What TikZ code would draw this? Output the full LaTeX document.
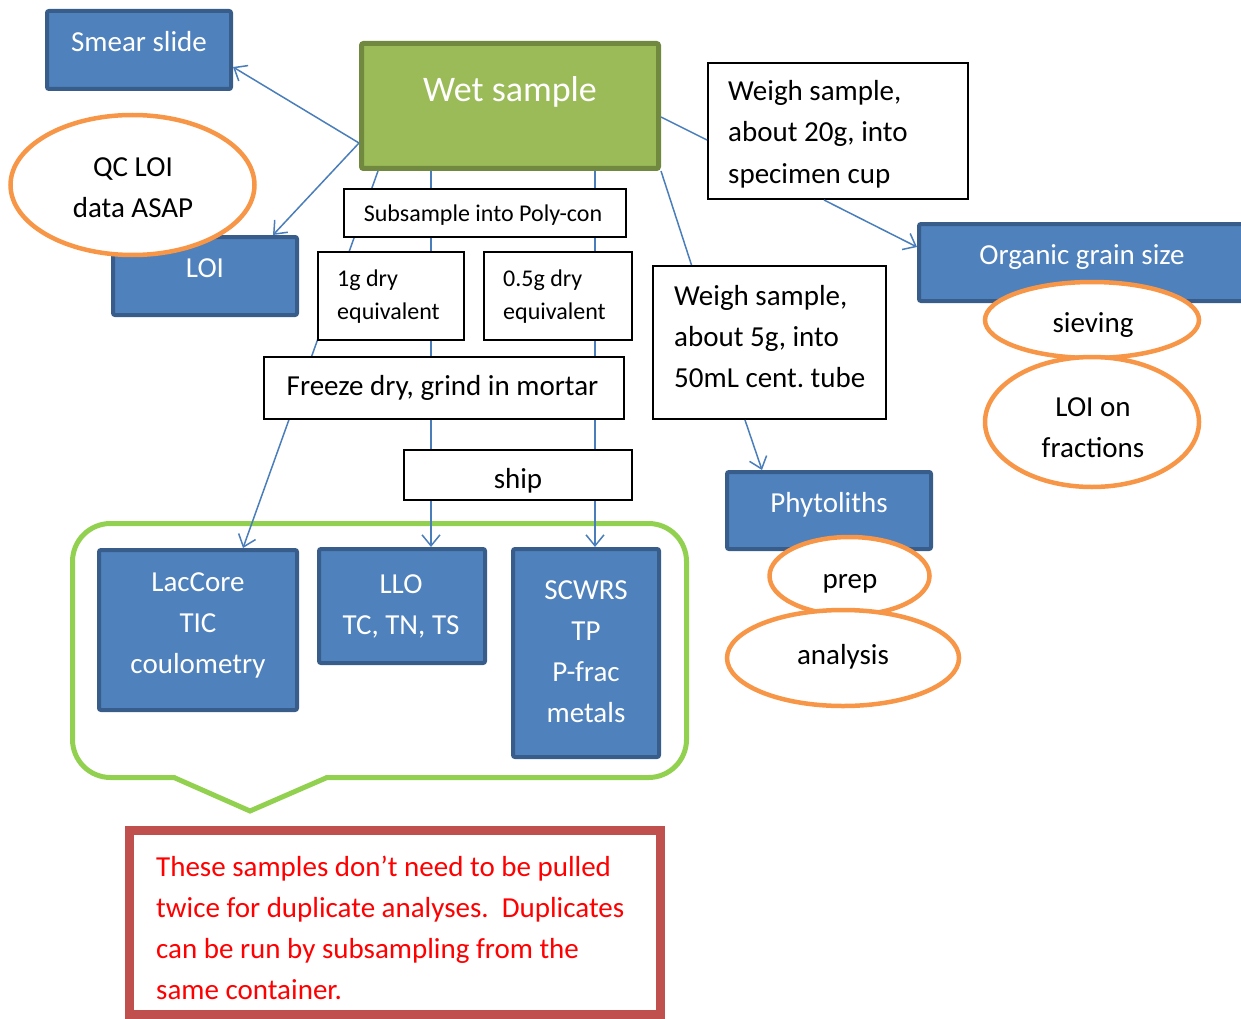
\documentclass[tikz,border=0pt]{standalone}
\usepackage{fontspec}
\setmainfont{Carlito}
\frenchspacing
\usetikzlibrary{arrows.meta,shapes.geometric,calc}
\definecolor{boxblue}{HTML}{4F81BD}
\definecolor{boxblueline}{HTML}{385D8A}
\definecolor{wetfill}{HTML}{9BBB59}
\definecolor{wetline}{HTML}{71893F}
\definecolor{ovalline}{HTML}{F79646}
\definecolor{groupline}{HTML}{92D050}
\definecolor{noteline}{HTML}{C0504D}
\definecolor{notetext}{HTML}{FF0000}
\definecolor{linkblue}{HTML}{4A7EBB}
\begin{document}
\begin{tikzpicture}[x=1pt,y=-1pt,
  bluebox/.style={draw=boxblueline, fill=boxblue, line width=4pt, rounded corners=2pt, inner sep=0pt},
  plainbox/.style={draw=black, fill=white, line width=2pt, inner sep=0pt},
  oval/.style={ellipse, draw=ovalline, fill=white, line width=4.5pt, inner sep=0pt},
  link/.style={draw=linkblue, line width=1.5pt},
  arr/.style={link, -{Straight Barb[length=11pt,width=18pt,line width=1.5pt]}},
  body/.style={font=\fontsize{29}{41}\selectfont, inner sep=0pt},
  small/.style={font=\fontsize{24}{33}\selectfont, inner sep=0pt},
  wtxt/.style={body, text=white},
]
\useasboundingbox (0,0) rectangle (1241,1019);

% sample and analysis boxes
\node[draw=wetline, fill=wetfill, line width=5pt, rounded corners=2pt, inner sep=0pt,
      minimum width=297, minimum height=125] (wet) at (510,106) {};
\node[bluebox, minimum width=184, minimum height=78] (smear) at (139,50) {};
\node[bluebox, minimum width=184, minimum height=78] (loi) at (205,276) {};
\node[bluebox, minimum width=343, minimum height=77] (organic) at (1090.5,262.5) {};
\node[bluebox, minimum width=204, minimum height=77] (phyto) at (829,510.5) {};
\node[bluebox, minimum width=198, minimum height=160] (lac) at (198,630) {};
\node[bluebox, minimum width=166, minimum height=114] (llo) at (402,606) {};
\node[bluebox, minimum width=146, minimum height=208] (scwrs) at (586,653) {};

% group outline with pointer
\draw[groupline, line width=5pt, rounded corners=38pt, line cap=round]
  (174,777.5) -- (72.5,777.5) -- (72.5,523.5) -- (686.5,523.5) -- (686.5,777.5) -- (327,777.5);
\draw[groupline, line width=5pt, line cap=round, line join=miter]
  (174,777.5) -- (250,811) -- (327,777.5);

% splits that run under the preparation boxes
\draw[arr] ([xshift=-132pt]wet.south) -- ([xshift=45pt]lac.north);
\draw[arr] ([xshift=-79pt]wet.south) -- ([xshift=29pt]llo.north);
\draw[arr] ([xshift=85pt]wet.south) -- ([xshift=9pt]scwrs.north);

% preparation boxes
\node[plainbox, minimum width=282, minimum height=48] (subs) at (485,213) {};
\node[plainbox, minimum width=146, minimum height=88] (onegram) at (391,296) {};
\node[plainbox, minimum width=148, minimum height=88] (halfgram) at (558,296) {};
\node[plainbox, minimum width=360, minimum height=62] (freeze) at (444,388) {};
\node[plainbox, minimum width=228, minimum height=50] (ship) at (518,475) {};
\node[plainbox, minimum width=260, minimum height=136] (weighA) at (838,131) {};
\node[plainbox, minimum width=233, minimum height=153] (weighB) at (769.5,342.5) {};

% connectors
\draw[arr] ([yshift=-37pt]wet.west) -- ([yshift=-17pt]smear.east);
\draw[arr] ([yshift=-37pt]wet.west) -- ([xshift=68pt]loi.north);
\draw[link] ([yshift=-11pt]wet.east) -- ([yshift=-9pt]weighA.west);
\draw[link] (wet.south east) -- ([xshift=-78pt]weighB.north);
\draw[arr] ([xshift=-14pt]weighA.south) -- ([yshift=15.5pt]organic.west);
\draw[arr] ([xshift=-24.5pt]weighB.south) -- ([xshift=-67pt]phyto.north);

% ovals
\node[oval, minimum width=244, minimum height=140] (qc) at (132.5,185) {};
\node[oval, minimum width=214, minimum height=76] (sieve) at (1092,320) {};
\node[oval, minimum width=214, minimum height=130] (frac) at (1092,422) {};
\node[oval, minimum width=160, minimum height=78] (prep) at (849.5,576) {};
\node[oval, minimum width=232, minimum height=96] (analysis) at (843,658) {};

% note box
\node[draw=noteline, fill=white, line width=9pt, inner sep=0pt,
      minimum width=531, minimum height=184] (note) at (395,922.5) {};

% texts (multi-line texts are placed by the baseline of their last line)
\node[wtxt, anchor=base] (smeart) at (139,52) {Smear slide};
\node[anchor=base, text=white, font=\fontsize{36}{44}\selectfont, inner sep=0pt] (wett) at (510,102) {Wet sample};
\node[wtxt, anchor=base] (loit) at (205,277) {LOI};
\node[body, anchor=base, align=center] (qct) at (133,217) {QC LOI\\data ASAP};
\node[small, anchor=base] (subst) at (483,221) {Subsample into Poly-con};
\node[small, anchor=base west, align=left] (onegramt) at (337,319) {1g dry\\equivalent};
\node[small, anchor=base west, align=left] (halfgramt) at (503,319) {0.5g dry\\equivalent};
\node[body, anchor=base] (freezet) at (442.5,395) {Freeze dry, grind in mortar};
\node[body, anchor=base] (shipt) at (518,488) {ship};
\node[body, anchor=base west, align=left] (weighAt) at (728,183) {Weigh sample,\\about 20g, into\\specimen cup};
\node[body, anchor=base west, align=left] (weighBt) at (674,387) {Weigh sample,\\about 5g, into\\50mL cent. tube};
\node[wtxt, anchor=base] (organict) at (1082,264) {Organic grain size};
\node[body, anchor=base] (sievet) at (1093,332) {sieving};
\node[body, anchor=base, align=center] (fract) at (1093,457) {LOI on\\fractions};
\node[wtxt, anchor=base] (phytot) at (829,512) {Phytoliths};
\node[body, anchor=base] (prept) at (850,588) {prep};
\node[body, anchor=base] (analysist) at (843,664) {analysis};
\node[wtxt, anchor=base, align=center] (lact) at (198,673) {LacCore\\TIC\\coulometry};
\node[wtxt, anchor=base, align=center] (llot) at (401,634) {LLO\\TC, TN, TS};
\node[wtxt, anchor=base, align=center] (scwrst) at (586,722) {SCWRS\\TP\\P-frac\\metals};
\node[body, anchor=base west, align=left, text=notetext] (notet) at (156,999)
  {These samples don’t need to be pulled\\twice for duplicate analyses.~ Duplicates\\can be run by subsampling from the\\same container.};
\end{tikzpicture}
\end{document}
